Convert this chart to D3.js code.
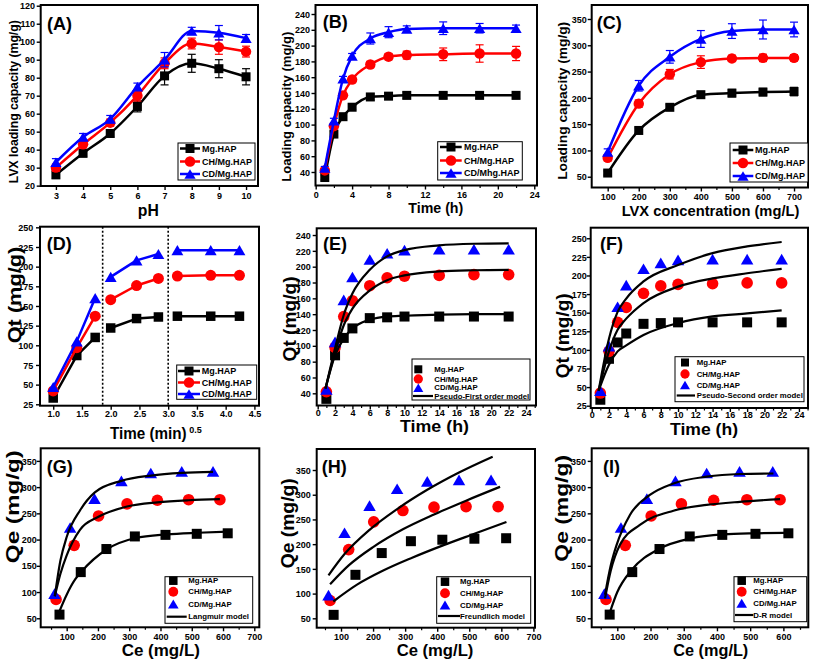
<!DOCTYPE html>
<html><head><meta charset="utf-8">
<script src="https://cdn.jsdelivr.net/npm/d3@7"></script>
<style>body{margin:0;background:#fff}svg{display:block}</style>
</head><body><svg id="c" width="813" height="663"></svg>
<script>
// ---------------- DATA ----------------
const seriesNames = ["Mg.HAP", "CH/Mg.HAP", "CD/Mg.HAP"];
const seriesNamesB = ["Mg.HAP", "CH/Mg.HAP", "CD/Mhg.HAP"];

// (A) pH effect
const phValues = [3, 4, 5, 6, 7, 8, 9, 10];
const phMg = [26, 38, 49, 64, 81, 88, 85, 80.5];
const phCH = [30, 43, 55, 70, 88, 99, 97, 94.5];
const phCD = [33, 47, 57, 75, 90, 106, 105, 102];
const phErrMg = [2, 2, 2, 3, 5, 5, 5, 4.5];
const phErrCH = [2, 2, 2, 3, 3, 3, 4, 3];
const phErrCD = [2, 2, 2, 2, 4, 2, 4, 2];

// (B) contact time
const timeH = [1, 2, 3, 4, 6, 8, 10, 14, 18, 22];
const timeMg = [33, 88, 110, 122, 135, 136, 137, 137, 137, 137];
const timeCH = [42, 98, 137, 157, 176, 186, 188, 189, 190, 190];
const timeCD = [45, 105, 158, 187, 209, 217, 221, 222, 222, 222];
const timeErrMg = [3, 3, 3, 3, 4, 4, 4, 4, 4, 4];
const timeErrCH = [2, 3, 4, 4, 4, 4, 5, 8, 11, 9];
const timeErrCD = [2, 3, 3, 3, 7, 7, 4, 8, 6, 4];

// (C) initial concentration
const concValues = [100, 200, 300, 400, 500, 600, 700];
const concMg = [57, 138, 182, 206, 209, 211, 212];
const concCH = [86, 189, 245, 268, 275, 276, 276];
const concCD = [97, 223, 278, 312, 327, 330, 330];
const concErrMg = [4, 5, 5, 6, 7, 7, 8];
const concErrCH = [6, 7, 9, 12, 6, 7, 6];
const concErrCD = [6, 10, 12, 16, 14, 18, 14];

// (D) intra-particle diffusion
const sqrtTime = [1.0, 1.41, 1.73, 2.0, 2.45, 2.83, 3.16, 3.74, 4.24];
const sqrtMg = [33, 87, 110, 122, 134, 136, 137, 137, 137];
const sqrtCH = [42, 97, 137, 158, 176, 185, 188, 189, 189];
const sqrtCD = [47, 105, 160, 187, 208, 216, 221, 221, 221];
const sqrtStages = [[0, 3], [3, 6], [6, 9]];
const sqrtBreaks = [1.86, 3.0];

// (E) pseudo-first order model curves
const pfoTime = [0.9, 2, 3, 4, 6, 8, 10, 14, 18, 22];
const pfoMg = [46, 88, 109, 122, 133, 137, 138, 139.5, 140, 140];
const pfoCH = [46, 92, 126, 147, 170, 183, 189, 194, 195.5, 196];
const pfoCD = [46, 97, 139, 166, 196, 213, 221, 227, 229, 229.5];

// (F) pseudo-second order model curves
const psoTime = [0.8, 2, 3, 4, 6, 10, 14, 18, 22];
const psoMg = [45, 80, 98, 106, 120, 136, 145, 149, 153];
const psoCH = [45, 98, 127, 142, 163, 185, 196, 203, 209];
const psoCD = [45, 115, 151, 169, 192, 214, 230, 239, 245];

// (G,H,I) isotherm points
const ceMg = [77, 145, 227, 318, 416, 516, 615];
const ceCH = [66, 124, 202, 293, 390, 490, 590];
const ceCD = [61, 111, 189, 275, 369, 468, 568];
const qeMg = [57, 138, 182, 206, 209, 211, 212];
const qeCH = [86, 189, 245, 268, 275, 276, 276];
const qeCD = [97, 223, 278, 312, 327, 330, 330];

// Langmuir curves
const langCeMg = [78, 100, 127, 146, 230, 320, 420, 520, 616];
const langQMg = [65, 95, 124, 138, 182, 203, 210, 213, 215];
const langCeCH = [62, 80, 100, 143, 200, 293, 390, 490, 590];
const langQCH = [92, 135, 170, 219, 243, 263, 271, 275, 277];
const langCeCD = [62, 80, 100, 143, 190, 275, 370, 470, 568];
const langQCD = [92, 160, 205, 256, 290, 312, 322, 327, 329];

// Freundlich curves
const freCeMg = [76, 150, 230, 320, 420, 520, 616];
const freQMg = [84, 118, 146, 172, 198, 222, 245];
const freCeCH = [66, 124, 200, 293, 390, 490, 596];
const freQCH = [119, 157, 194, 230, 260, 288, 316];
const freCeCD = [61, 111, 189, 275, 369, 468, 573];
const freQCD = [137, 180, 229, 271, 310, 345, 377];

// D-R curves
const drCeMg = [78, 100, 143, 228, 319, 419, 520, 610];
const drQMg = [62, 100, 142, 183, 202, 210, 212, 213];
const drCeCH = [63, 80, 108, 168, 269, 369, 469, 590];
const drQCH = [88, 140, 190, 228, 255, 266, 272, 277];
const drCeCD = [63, 80, 98, 138, 198, 269, 369, 469, 570];
const drQCD = [95, 150, 190, 247, 285, 307, 320, 325, 326];

// ---------------- STYLE ----------------
const colors = ["#000000", "#ff0000", "#0000ff"];
const shapes = ["square", "circle", "triangle"];
const FONT = 'Arial, "Liberation Sans", sans-serif';
const svg = d3.select("#c");

function marker(sel, shape, cx, cy, s, color) {
  if (shape === "square") {
    sel.append("rect").attr("x", cx - s / 2).attr("y", cy - s / 2).attr("width", s).attr("height", s).attr("fill", color);
  } else if (shape === "circle") {
    sel.append("circle").attr("cx", cx).attr("cy", cy).attr("r", s * 0.58).attr("fill", color);
  } else {
    const w = s * 1.25, h = w * 0.85;
    sel.append("path").attr("d", `M${cx},${cy - h / 2}L${cx + w / 2},${cy + h / 2}L${cx - w / 2},${cy + h / 2}Z`).attr("fill", color);
  }
}

function txt(sel, x, y, s, size, anchor) {
  return sel.append("text").attr("x", x).attr("y", y).text(s)
    .attr("font-family", FONT).attr("font-weight", "bold").attr("font-size", size)
    .attr("text-anchor", anchor || "start").attr("fill", "#000");
}

function makePanel(c) {
  const x = d3.scaleLinear().domain(c.xd).range([c.l, c.r]);
  const y = d3.scaleLinear().domain(c.yd).range([c.b, c.t]);
  const g = svg.append("g");
  const fmtX = c.xf || d3.format("d");
  const gx = g.append("g").attr("transform", `translate(0,${c.b})`)
    .call(d3.axisBottom(x).tickValues(c.xt).tickSize(4).tickSizeOuter(0).tickFormat(fmtX));
  gx.select(".domain").remove();
  gx.selectAll("line").attr("stroke-width", 1.4);
  gx.selectAll("text").attr("y", c.xly - c.b).attr("dy", null)
    .attr("font-size", 9).attr("font-weight", "bold").attr("font-family", FONT).attr("fill", "#000");
  if (c.xm) {
    const gm = g.append("g").attr("transform", `translate(0,${c.b})`)
      .call(d3.axisBottom(x).tickValues(c.xm).tickSize(2.5).tickSizeOuter(0).tickFormat(""));
    gm.select(".domain").remove();
    gm.selectAll("line").attr("stroke-width", 1.2);
  }
  const gy = g.append("g").attr("transform", `translate(${c.l},0)`)
    .call(d3.axisLeft(y).tickValues(c.yt).tickSize(4).tickSizeOuter(0).tickFormat(d3.format("d")));
  gy.select(".domain").remove();
  gy.selectAll("line").attr("stroke-width", 1.4);
  gy.selectAll("text").attr("x", c.ylx - c.l).attr("dy", "0.35em")
    .attr("font-size", 9).attr("font-weight", "bold").attr("font-family", FONT).attr("fill", "#000");
  const data = g.append("g");
  return { g, data, x, y, c };
}

function finishPanel(p) {
  const c = p.c;
  p.g.append("rect").attr("x", c.l).attr("y", c.t).attr("width", c.r - c.l).attr("height", c.b - c.t)
    .attr("fill", "none").attr("stroke", "#000").attr("stroke-width", 2);
  txt(p.g, c.letter[1], c.letter[2], c.letter[0], 18);
  p.g.append("text").attr("transform", `translate(${c.yTitle.x},${c.yTitle.cy}) rotate(-90)`)
    .attr("dy", "0.36em").attr("text-anchor", "middle").text(c.yTitle.s)
    .attr("font-family", FONT).attr("font-weight", "bold").attr("font-size", c.yTitle.fs)
    .attr("textLength", c.yTitle.len).attr("lengthAdjust", "spacingAndGlyphs");
  if (c.xTitle.sup) {
    txt(p.g, c.xTitle.x, c.xTitle.y, c.xTitle.s, c.xTitle.fs)
      .attr("textLength", c.xTitle.len).attr("lengthAdjust", "spacingAndGlyphs");
    txt(p.g, c.xTitle.x + c.xTitle.len + 2.5, c.xTitle.y - 6, c.xTitle.sup, 9);
  } else {
    txt(p.g, c.xTitle.x, c.xTitle.y, c.xTitle.s, c.xTitle.fs, "middle")
      .attr("textLength", c.xTitle.len).attr("lengthAdjust", "spacingAndGlyphs");
  }
}

function drawSeries(p, xs, ys, k, opt) {
  const color = colors[k], shape = shapes[k];
  const pts = xs.map((xv, i) => [p.x(xv), p.y(ys[i])]);
  if (opt.line) {
    const groups = opt.groups || [[0, pts.length]];
    groups.forEach(([a, b]) => {
      p.data.append("path").attr("d", d3.line().curve(opt.curve || d3.curveLinear)(pts.slice(a, b)))
        .attr("fill", "none").attr("stroke", color).attr("stroke-width", 2.5).attr("stroke-linejoin", "round");
    });
  }
  if (opt.err) {
    xs.forEach((xv, i) => {
      const e = opt.err[i], px = p.x(xv), y1 = p.y(ys[i] - e), y2 = p.y(ys[i] + e);
      const eg = p.data.append("g").attr("stroke", color).attr("stroke-width", 1.2);
      eg.append("line").attr("x1", px).attr("x2", px).attr("y1", y1).attr("y2", y2);
      eg.append("line").attr("x1", px - 4).attr("x2", px + 4).attr("y1", y1).attr("y2", y1);
      eg.append("line").attr("x1", px - 4).attr("x2", px + 4).attr("y1", y2).attr("y2", y2);
    });
  }
  pts.forEach(pt => marker(p.data, shape, pt[0], pt[1], opt.size, color));
}

function drawModel(p, xs, ys) {
  const pts = xs.map((xv, i) => [p.x(xv), p.y(ys[i])]);
  p.data.append("path").attr("d", d3.line().curve(d3.curveMonotoneX)(pts))
    .attr("fill", "none").attr("stroke", "#000").attr("stroke-width", 2.2);
}

function legend(p, L, names, withLine, modelName) {
  const g = p.g.append("g");
  g.append("rect").attr("x", L.box[0]).attr("y", L.box[1]).attr("width", L.box[2] - L.box[0]).attr("height", L.box[3] - L.box[1])
    .attr("fill", "#fff").attr("stroke", "#000").attr("stroke-width", 1);
  names.forEach((n, k) => {
    const yy = L.rows[k];
    if (withLine) {
      g.append("line").attr("x1", L.line[0]).attr("x2", L.line[1]).attr("y1", yy).attr("y2", yy)
        .attr("stroke", colors[k]).attr("stroke-width", 2.5);
    }
    marker(g, shapes[k], L.mx, yy, L.ms, colors[k]);
    txt(g, L.tx, yy, n, L.fs).attr("dy", "0.35em");
  });
  if (modelName) {
    const yy = L.rows[3];
    g.append("line").attr("x1", L.line[0]).attr("x2", L.line[1]).attr("y1", yy).attr("y2", yy)
      .attr("stroke", "#000").attr("stroke-width", 2.2);
    txt(g, L.tx, yy, modelName, L.fs).attr("dy", "0.35em");
  }
}

const rng = (a, b, s) => d3.range(a, b + s / 2, s);

// ---------------- PANEL A ----------------
{
  const p = makePanel({ l: 40.7, r: 258, t: 5, b: 186, xd: [2.44, 10.44], yd: [19.8, 120.4],
    xt: rng(3, 10, 1), yt: rng(20, 120, 10), xly: 198.5, ylx: 35,
    letter: ["(A)", 47, 29.5],
    yTitle: { s: "LVX loading capacity (mg/g)", x: 13.3, cy: 101.7, fs: 12, len: 163 },
    xTitle: { s: "pH", x: 148.3, y: 216, fs: 16.5, len: 21 } });
  [[phMg, phErrMg], [phCH, phErrCH], [phCD, phErrCD]].forEach(([v, e], k) =>
    drawSeries(p, phValues, v, k, { line: true, curve: d3.curveMonotoneX, err: e, size: 9 }));
  finishPanel(p);
  legend(p, { box: [178, 143, 255, 180], rows: [148.5, 161.5, 174], line: [180, 200], mx: 190, ms: 9, tx: 202, fs: 9 }, seriesNames, true);
}
// ---------------- PANEL B ----------------
{
  const p = makePanel({ l: 315.5, r: 537, t: 5, b: 185.5, xd: [-0.02, 24.3], yd: [22.9, 251.4],
    xt: rng(0, 24, 4), xm: rng(2, 22, 4), yt: rng(40, 240, 20), xly: 197.5, ylx: 310,
    letter: ["(B)", 322.7, 27.5],
    yTitle: { s: "Loading capacity (mg/g)", x: 286.7, cy: 106.7, fs: 13, len: 150 },
    xTitle: { s: "Time (h)", x: 435.8, y: 213, fs: 14, len: 55 } });
  [[timeMg, timeErrMg], [timeCH, timeErrCH], [timeCD, timeErrCD]].forEach(([v, e], k) =>
    drawSeries(p, timeH, v, k, { line: true, curve: d3.curveMonotoneX, err: e, size: 9 }));
  finishPanel(p);
  legend(p, { box: [437.7, 141.7, 522.3, 180], rows: [147, 160.5, 173], line: [440, 461.7], mx: 451, ms: 9, tx: 464, fs: 9 }, seriesNamesB, true);
}
// ---------------- PANEL C ----------------
{
  const p = makePanel({ l: 591.7, r: 808, t: 5, b: 187.5, xd: [48.5, 745], yd: [29.5, 376.6],
    xt: rng(100, 700, 100), xm: rng(150, 650, 100), yt: rng(50, 350, 50), xly: 199.5, ylx: 586.7,
    letter: ["(C)", 596.7, 29],
    yTitle: { s: "Loading capacity (mg/g)", x: 561.7, cy: 100.8, fs: 13.5, len: 158 },
    xTitle: { s: "LVX concentration (mg/L)", x: 710.5, y: 216, fs: 14, len: 177.7 } });
  [[concMg, concErrMg], [concCH, concErrCH], [concCD, concErrCD]].forEach(([v, e], k) =>
    drawSeries(p, concValues, v, k, { line: true, curve: d3.curveMonotoneX, err: e, size: 9 }));
  finishPanel(p);
  legend(p, { box: [730, 143, 808, 182], rows: [150, 163, 176], line: [732.7, 753.3], mx: 743, ms: 9, tx: 755, fs: 9 }, seriesNames, true);
}
// ---------------- PANEL D ----------------
{
  const p = makePanel({ l: 40, r: 259, t: 226.7, b: 405.7, xd: [0.77, 4.58], yd: [23.2, 250.8],
    xt: rng(1, 4.5, 0.5), xf: d3.format(".1f"), yt: rng(25, 250, 25), xly: 417.5, ylx: 33.3,
    letter: ["(D)", 46.7, 249.5],
    yTitle: { s: "Qt (mg/g)", x: 15, cy: 295, fs: 18, len: 96.7 },
    xTitle: { s: "Time (min)", sup: "0.5", x: 110, y: 438.5, fs: 16, len: 76.7 } });
  sqrtBreaks.forEach(v => p.data.append("line").attr("x1", p.x(v)).attr("x2", p.x(v)).attr("y1", p.c.t).attr("y2", p.c.b)
    .attr("stroke", "#000").attr("stroke-width", 1.6).attr("stroke-dasharray", "2,2"));
  [sqrtMg, sqrtCH, sqrtCD].forEach((v, k) =>
    drawSeries(p, sqrtTime, v, k, { line: true, groups: sqrtStages, size: 9.5 }));
  finishPanel(p);
  legend(p, { box: [176.7, 365, 256.7, 399.3], rows: [371, 382.5, 394], line: [178, 200], mx: 189, ms: 9, tx: 201.7, fs: 9 }, seriesNames, true);
}
// ---------------- PANEL E ----------------
{
  const p = makePanel({ l: 316.7, r: 536, t: 228.3, b: 405.5, xd: [-0.115, 25.15], yd: [24.6, 248.5],
    xt: rng(0, 24, 2), xm: rng(1, 25, 2), yt: rng(40, 240, 20), xly: 416, ylx: 310.7,
    letter: ["(E)", 323, 249.5],
    yTitle: { s: "Qt (mg/g)", x: 290, cy: 319, fs: 18, len: 85 },
    xTitle: { s: "Time (h)", x: 434.5, y: 432, fs: 16.5, len: 69 } });
  [timeMg, timeCH, timeCD].forEach((v, k) => drawSeries(p, timeH, v, k, { size: 10 }));
  [pfoMg, pfoCH, pfoCD].forEach(v => drawModel(p, pfoTime, v));
  finishPanel(p);
  legend(p, { box: [412, 359, 530, 400], rows: [369.3, 379, 387.7, 396], line: [413, 433], mx: 418.3, ms: 8, tx: 434.3, fs: 7.8 },
    seriesNames, false, "Pseudo-First order model");
}
// ---------------- PANEL F ----------------
{
  const p = makePanel({ l: 590.7, r: 808, t: 227.7, b: 408, xd: [-0.116, 25.05], yd: [21.9, 264.2],
    xt: rng(0, 24, 2), xm: rng(1, 25, 2), yt: rng(25, 250, 25), xly: 417.5, ylx: 586.7,
    letter: ["(F)", 600, 249.5],
    yTitle: { s: "Qt (mg/g)", x: 563, cy: 335.8, fs: 18, len: 85 },
    xTitle: { s: "Time (h)", x: 704, y: 434.5, fs: 16, len: 68 } });
  [timeMg, timeCH, timeCD].forEach((v, k) => drawSeries(p, timeH, v, k, { size: 10 }));
  [psoMg, psoCH, psoCD].forEach(v => drawModel(p, psoTime, v));
  finishPanel(p);
  legend(p, { box: [675, 356.7, 804, 401.7], rows: [362.5, 374, 385, 395.5], line: [676.7, 695], mx: 685, ms: 8, tx: 696.7, fs: 7.8 },
    seriesNames, false, "Pseudo-Second order model");
}
// ---------------- PANEL G ----------------
{
  const p = makePanel({ l: 40.7, r: 259.3, t: 448.3, b: 627.3, xd: [16.9, 716], yd: [32.8, 374],
    xt: rng(100, 700, 100), xm: rng(50, 650, 100), yt: rng(50, 350, 50), xly: 640, ylx: 36.7,
    letter: ["(G)", 46.7, 472.5],
    yTitle: { s: "Qe (mg/g)", x: 12.5, cy: 506.7, fs: 18, len: 113 },
    xTitle: { s: "Ce (mg/L)", x: 160.8, y: 656, fs: 16.5, len: 78.3 } });
  [[ceMg, qeMg], [ceCH, qeCH], [ceCD, qeCD]].forEach(([xv, v], k) => drawSeries(p, xv, v, k, { size: 10 }));
  [[langCeMg, langQMg], [langCeCH, langQCH], [langCeCD, langQCD]].forEach(([xv, v]) => drawModel(p, xv, v));
  finishPanel(p);
  legend(p, { box: [165, 576.7, 252.7, 623.3], rows: [580.7, 591.7, 604, 616.7], line: [166.7, 186.7], mx: 173.3, ms: 8.5, tx: 188.3, fs: 7.8 },
    seriesNames, false, "Langmuir model");
}
// ---------------- PANEL H ----------------
{
  const p = makePanel({ l: 316.7, r: 535, t: 449, b: 627.7, xd: [24.2, 705], yd: [31, 392.5],
    xt: rng(100, 700, 100), xm: rng(50, 650, 100), yt: rng(50, 350, 50), xly: 640, ylx: 310.7,
    letter: ["(H)", 321.7, 472.5],
    yTitle: { s: "Qe (mg/g)", x: 287.5, cy: 523.3, fs: 18, len: 90 },
    xTitle: { s: "Ce (mg/L)", x: 435, y: 656, fs: 16.5, len: 76.7 } });
  [[ceMg, qeMg], [ceCH, qeCH], [ceCD, qeCD]].forEach(([xv, v], k) => drawSeries(p, xv, v, k, { size: 10 }));
  [[freCeMg, freQMg], [freCeCH, freQCH], [freCeCD, freQCD]].forEach(([xv, v]) => drawModel(p, xv, v));
  finishPanel(p);
  legend(p, { box: [436.7, 576.7, 530.7, 623.3], rows: [581.7, 593.3, 605, 616], line: [438, 460], mx: 445, ms: 8.5, tx: 460, fs: 7.8 },
    seriesNames, false, "Freundlich model");
}
// ---------------- PANEL I ----------------
{
  const p = makePanel({ l: 591.7, r: 808.3, t: 448.3, b: 627.3, xd: [22.9, 675], yd: [32.8, 374],
    xt: rng(100, 600, 100), xm: rng(50, 650, 100), yt: rng(50, 350, 50), xly: 640, ylx: 586,
    letter: ["(I)", 603, 472.5],
    yTitle: { s: "Qe (mg/g)", x: 561.7, cy: 508.3, fs: 18, len: 106.7 },
    xTitle: { s: "Ce (mg/L)", x: 710.8, y: 656, fs: 16.5, len: 75 } });
  [[ceMg, qeMg], [ceCH, qeCH], [ceCD, qeCD]].forEach(([xv, v], k) => drawSeries(p, xv, v, k, { size: 10 }));
  [[drCeMg, drQMg], [drCeCH, drQCH], [drCeCD, drQCD]].forEach(([xv, v]) => drawModel(p, xv, v));
  finishPanel(p);
  legend(p, { box: [734, 576.7, 806.7, 621.7], rows: [580.7, 591.7, 603.3, 615], line: [735, 753.3], mx: 741.7, ms: 8.5, tx: 753.3, fs: 7.8 },
    seriesNames, false, "D-R model");
}
</script></body></html>
